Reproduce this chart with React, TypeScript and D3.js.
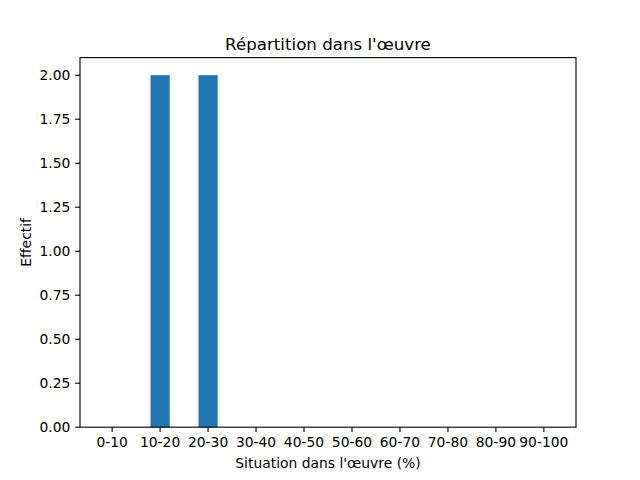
import React from "react";
import * as d3 from "d3";

const categories = ["0-10", "10-20", "20-30", "30-40", "40-50", "50-60", "60-70", "70-80", "80-90", "90-100"];
const counts = [0, 2, 2, 0, 0, 0, 0, 0, 0, 0];
const yTicks = [0, 0.25, 0.5, 0.75, 1.0, 1.25, 1.5, 1.75, 2.0];
const title = "Répartition dans l'œuvre";
const xLabel = "Situation dans l'œuvre (%)";
const yLabel = "Effectif";

export default function App() {
  const W = 640, H = 480;
  const left = 80, right = 576, top = 57.6, bottom = 427.2;
  const barW = 0.4;
  const n = categories.length;
  const lo = -barW / 2, hi = n - 1 + barW / 2;
  const m = (hi - lo) * 0.05;
  const x = d3.scaleLinear().domain([lo - m, hi + m]).range([left, right]);
  const yMax = d3.max(counts)! * 1.05;
  const y = d3.scaleLinear().domain([0, yMax]).range([bottom, top]);
  const font = "DejaVu Sans, sans-serif";
  const fs = 13.89;
  const tl = 4.86;
  const lw = 1.11;
  return (
    <svg width={W} height={H} style={{ position: "absolute", left: 0, top: 0, background: "#fff" }} fontFamily={font}>
      <rect x={0} y={0} width={W} height={H} fill="#fff" />
      {counts.map((c, i) => (
        <rect key={i} x={x(i - barW / 2)} y={y(c)} width={x(i + barW / 2) - x(i - barW / 2)} height={bottom - y(c)} fill="#1f77b4" />
      ))}
      <rect x={left} y={top} width={right - left} height={bottom - top} fill="none" stroke="#000" strokeWidth={lw} />
      {categories.map((c, i) => (
        <g key={c}>
          <line x1={x(i)} x2={x(i)} y1={bottom} y2={bottom + tl} stroke="#000" strokeWidth={lw} />
          <text x={x(i)} y={bottom + 20} textAnchor="middle" fontSize={fs} fill="#000">{c}</text>
        </g>
      ))}
      {yTicks.map((t) => (
        <g key={t}>
          <line x1={left - tl} x2={left} y1={y(t)} y2={y(t)} stroke="#000" strokeWidth={lw} />
          <text x={left - 9.7} y={y(t)} dy="0.35em" textAnchor="end" fontSize={fs} fill="#000">{t.toFixed(2)}</text>
        </g>
      ))}
      <text x={(left + right) / 2} y={top - 8} textAnchor="middle" fontSize={16.67} fill="#000">{title}</text>
      <text x={(left + right) / 2} y={bottom + 41} textAnchor="middle" fontSize={fs} fill="#000">{xLabel}</text>
      <text transform={`translate(${31},${(top + bottom) / 2}) rotate(-90)`} textAnchor="middle" fontSize={fs} fill="#000">{yLabel}</text>
    </svg>
  );
}
